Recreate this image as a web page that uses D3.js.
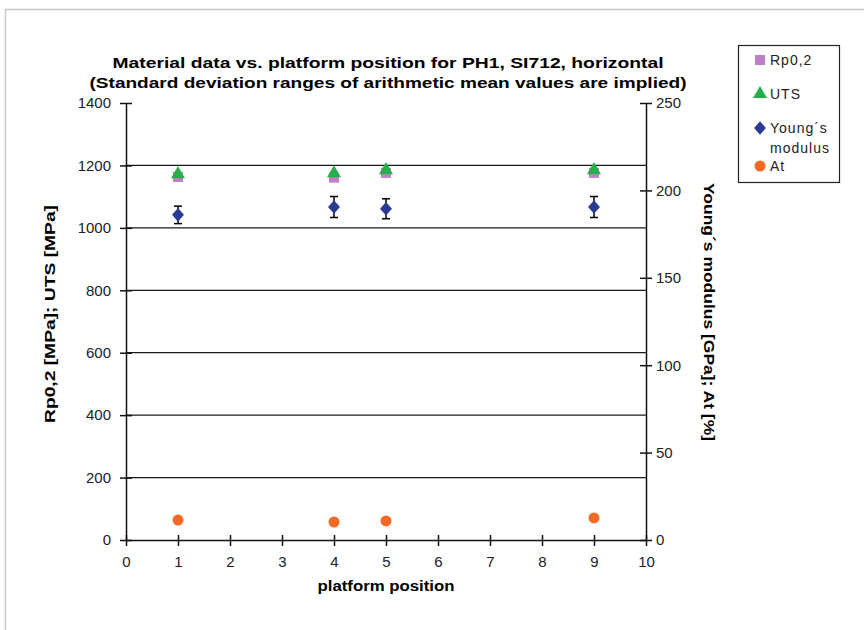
<!DOCTYPE html>
<html>
<head>
<meta charset="utf-8">
<script src="https://cdn.jsdelivr.net/npm/d3@7"></script>
<style>
  body { margin: 0; background: #fff; }
  text { font-family: "Liberation Sans", Arial, sans-serif; }
</style>
</head>
<body>
<div id="chart"></div>
<script>
// chart values
const positions = [1, 4, 5, 9];
const rp02 = [1163, 1161, 1176, 1176];
const uts = [1172, 1175, 1185, 1185];
const youngs = [186, 190.5, 189.5, 190.5];
const youngsSd = [5, 6, 5.7, 6];
const at = [11.4, 10.3, 10.9, 12.6];

const xTicks = [0, 1, 2, 3, 4, 5, 6, 7, 8, 9, 10];
const leftTicks = [0, 200, 400, 600, 800, 1000, 1200, 1400];
const rightTicks = [0, 50, 100, 150, 200, 250];
const gridValues = [200, 400, 600, 800, 1000, 1200];

const titleLines = [
    "Material data vs. platform position for PH1, SI712, horizontal",
    "(Standard deviation ranges of arithmetic mean values are implied)"
];
const legendItems = [
    {name: ["Rp0,2"], shape: "square", color: "#bf80c6"},
    {name: ["UTS"], shape: "triangle", color: "#27ae4a"},
    {name: ["Young´s", "modulus"], shape: "diamond", color: "#2b3a93"},
    {name: ["At"], shape: "circle", color: "#f26a25"}
];

// diamond a bit taller than wide, like the Excel marker
const symbolRhomb = {
    draw(context, size) {
        const w = Math.sqrt(size) / 1.5;
        const h = w * 1.15;
        context.moveTo(0, -h);
        context.lineTo(w, 0);
        context.lineTo(0, h);
        context.lineTo(-w, 0);
        context.closePath();
    }
};

/**
 * Plot area in page pixels.
 */
function graphDimensions() {
    return {left: 126, right: 646, top: 103, bottom: 540};
}

/**
 * Creates the svg and the outer chart frame.
 */
function appendToDom() {
    const svg = d3.select("#chart").append("svg")
        .attr("width", 864)
        .attr("height", 630);
    svg.append("rect")
        .attr("x", 5.5).attr("y", 9.5)
        .attr("width", 900).attr("height", 700)
        .attr("fill", "#fff")
        .attr("stroke", "#c8c8c8")
        .attr("stroke-width", 1.5);
    return svg;
}

/**
 * Returns a d3 symbol path for a given shape.
 */
function symbolPath(shape) {
    const types = {
        square: [d3.symbolSquare, 100],
        triangle: [d3.symbolTriangle, 85],
        diamond: [symbolRhomb, 80],
        circle: [d3.symbolCircle, 95]
    };
    const t = types[shape];
    return d3.symbol().type(t[0]).size(t[1])();
}

/**
 * Draws the horizontal gridlines.
 */
function drawGrid(svg, dim, y) {
    svg.append("g")
        .selectAll("line")
        .data(gridValues)
        .enter()
        .append("line")
        .attr("x1", dim.left).attr("x2", dim.right)
        .attr("y1", d => y(d)).attr("y2", d => y(d))
        .attr("stroke", "#1a1a1a")
        .attr("stroke-width", 1.3);
}

/**
 * Draws the three axes with crossing ticks.
 */
function drawAxes(svg, dim, x, y, y2) {
    const tickStyle = g => {
        g.select(".domain").attr("stroke", "#111").attr("stroke-width", 1.5);
        g.selectAll(".tick line").attr("stroke", "#111").attr("stroke-width", 1.5);
        g.selectAll(".tick text")
            .attr("fill", "#222")
            .style("font-size", "15px");
    };
    const fmt = d3.format("d");

    const left = svg.append("g")
        .attr("transform", "translate(" + dim.left + ",0)")
        .call(d3.axisLeft(y).tickValues(leftTicks).tickFormat(fmt).tickSize(6).tickSizeOuter(0))
        .call(tickStyle);
    left.selectAll(".tick line").attr("x2", 6).attr("x1", -6);
    left.selectAll(".tick text").attr("x", -15);

    const right = svg.append("g")
        .attr("transform", "translate(" + dim.right + ",0)")
        .call(d3.axisRight(y2).tickValues(rightTicks).tickFormat(fmt).tickSize(6).tickSizeOuter(0))
        .call(tickStyle);
    right.selectAll(".tick line").attr("x1", -6).attr("x2", 6);
    right.selectAll(".tick text").attr("x", 10);

    const bottom = svg.append("g")
        .attr("transform", "translate(0," + dim.bottom + ")")
        .call(d3.axisBottom(x).tickValues(xTicks).tickFormat(fmt).tickSize(6).tickSizeOuter(0))
        .call(tickStyle);
    bottom.selectAll(".tick line").attr("y1", -5).attr("y2", 6);
    bottom.selectAll(".tick text").attr("y", 16);
}

/**
 * Draws the titles and axis names.
 */
function drawLabels(svg) {
    svg.append("g")
        .selectAll("text")
        .data(titleLines)
        .enter()
        .append("text")
        .attr("x", 388)
        .attr("y", (d, i) => 68 + i * 20)
        .attr("text-anchor", "middle")
        .style("font-size", "15px")
        .style("font-weight", "bold")
        .attr("textLength", (d, i) => i === 0 ? 551 : 597)
        .attr("lengthAdjust", "spacingAndGlyphs")
        .text(d => d);

    svg.append("text")
        .attr("transform", "translate(55,314)rotate(-90)")
        .attr("text-anchor", "middle")
        .style("font-size", "15px")
        .style("font-weight", "bold")
        .attr("textLength", 218)
        .attr("lengthAdjust", "spacingAndGlyphs")
        .text("Rp0,2 [MPa]; UTS [MPa]");

    svg.append("text")
        .attr("transform", "translate(704,312)rotate(90)")
        .attr("text-anchor", "middle")
        .style("font-size", "14px")
        .style("font-weight", "bold")
        .attr("textLength", 258)
        .attr("lengthAdjust", "spacingAndGlyphs")
        .text("Young´s modulus [GPa]; At [%]");

    svg.append("text")
        .attr("x", 386)
        .attr("y", 591)
        .attr("text-anchor", "middle")
        .style("font-size", "14px")
        .style("font-weight", "bold")
        .attr("textLength", 137)
        .attr("lengthAdjust", "spacingAndGlyphs")
        .text("platform position");
}

/**
 * Plots one series of markers.
 */
function plotSeries(svg, values, shape, color, x, scale) {
    svg.append("g")
        .selectAll("path")
        .data(values)
        .enter()
        .append("path")
        .attr("d", symbolPath(shape))
        .attr("transform", (d, i) => "translate(" + x(positions[i]) + "," + scale(d) + ")")
        .attr("fill", color);
}

/**
 * Draws standard deviation error bars.
 */
function drawErrorBars(svg, values, sd, x, scale) {
    const g = svg.append("g").attr("stroke", "#000").attr("stroke-width", 1.5);
    values.forEach((v, i) => {
        const cx = x(positions[i]);
        const y1 = scale(v - sd[i]);
        const y2 = scale(v + sd[i]);
        g.append("line").attr("x1", cx).attr("x2", cx).attr("y1", y1).attr("y2", y2);
        g.append("line").attr("x1", cx - 4).attr("x2", cx + 4).attr("y1", y1).attr("y2", y1);
        g.append("line").attr("x1", cx - 4).attr("x2", cx + 4).attr("y1", y2).attr("y2", y2);
    });
}

/**
 * Draws the legend box.
 */
function drawLegend(svg) {
    svg.append("rect")
        .attr("x", 738.5).attr("y", 45.5)
        .attr("width", 101).attr("height", 137)
        .attr("fill", "#fff")
        .attr("stroke", "#222")
        .attr("stroke-width", 1.2);
    const rows = [60, 94, 128, 166];
    legendItems.forEach((item, i) => {
        svg.append("path")
            .attr("d", symbolPath(item.shape))
            .attr("transform", "translate(760," + rows[i] + ")")
            .attr("fill", item.color);
        item.name.forEach((line, j) => {
            svg.append("text")
                .attr("x", 770)
                .attr("y", rows[i] + 5 + j * 20)
                .style("font-size", "14px")
                .style("letter-spacing", "1px")
                .attr("fill", "#222")
                .text(line);
        });
    });
}

function drawGraph() {
    const dim = graphDimensions();
    const svg = appendToDom();
    const x = d3.scaleLinear().domain([0, 10]).range([dim.left, dim.right]);
    const y = d3.scaleLinear().domain([0, 1400]).range([dim.bottom, dim.top]);
    const y2 = d3.scaleLinear().domain([0, 250]).range([dim.bottom, dim.top]);

    drawGrid(svg, dim, y);
    drawAxes(svg, dim, x, y, y2);
    drawLabels(svg);
    drawErrorBars(svg, youngs, youngsSd, x, y2);
    plotSeries(svg, rp02, "square", legendItems[0].color, x, y);
    plotSeries(svg, uts, "triangle", legendItems[1].color, x, y);
    plotSeries(svg, youngs, "diamond", legendItems[2].color, x, y2);
    plotSeries(svg, at, "circle", legendItems[3].color, x, y2);
    drawLegend(svg);
}

drawGraph();
</script>
</body>
</html>
